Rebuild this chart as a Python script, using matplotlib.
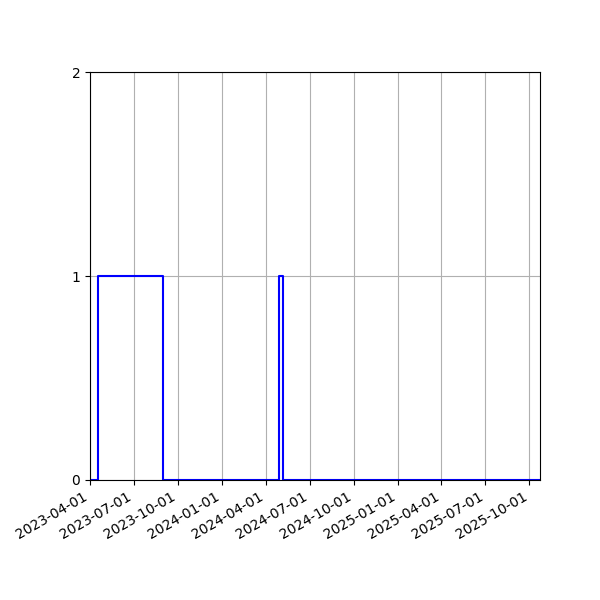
import matplotlib
matplotlib.use("Agg")
import matplotlib.pyplot as plt
import matplotlib.dates as mdates
import pandas as pd

dates = ["2023-04-01", "2023-04-17", "2023-08-30", "2024-04-29", "2024-05-07", "2025-10-23"]
values = [0, 1, 0, 1, 0, 0]
yticks = [0, 1, 2]

x = pd.to_datetime(dates)
fig, ax = plt.subplots(figsize=(6, 6), dpi=100)
ax.plot(x, values, drawstyle="steps-post", color="blue", linewidth=1.5)
ax.set_xlim(x[0], x[-1])
ax.set_ylim(0, 2)
ax.set_yticks(yticks)
ax.xaxis.set_major_locator(mdates.MonthLocator(bymonth=[1, 4, 7, 10]))
ax.xaxis.set_major_formatter(mdates.DateFormatter("%Y-%m-%d"))
ax.grid(True)
fig.autofmt_xdate()
fig.subplots_adjust(left=0.15, right=0.9, top=0.88, bottom=0.2)
fig.savefig("out.png")
